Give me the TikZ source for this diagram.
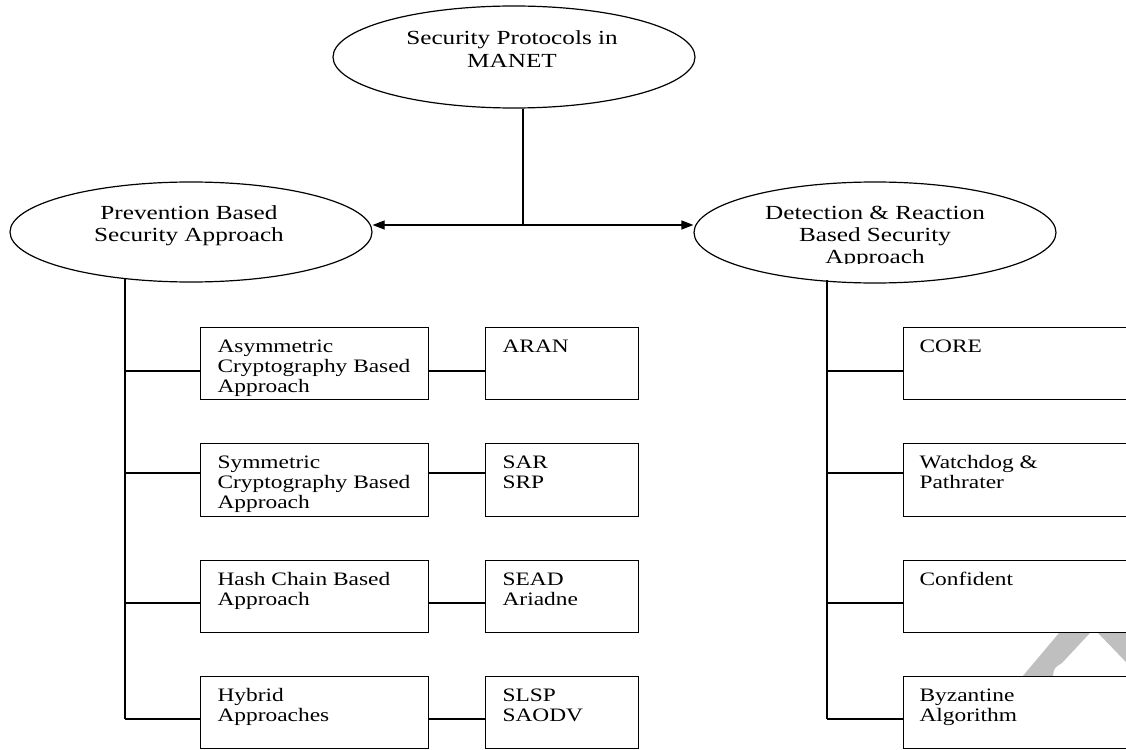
\documentclass[tikz,border=0pt]{standalone}
\usepackage{graphicx}
\usepackage{fontspec}
\setmainfont{Liberation Serif}
\usetikzlibrary{shapes.geometric,arrows.meta}
\newcommand{\boxtext}[1]{\scalebox{1.23}[1]{\fontsize{19}{20}\selectfont\begin{tabular}[t]{@{}l@{}}#1\end{tabular}}}
\newcommand{\elltext}[1]{\scalebox{1.26}[1]{\fontsize{20}{22.3}\selectfont\begin{tabular}[t]{@{}c@{}}#1\end{tabular}}}
\tikzset{
  ell/.style={draw, ellipse, fill=white, inner sep=0pt, minimum width=362pt},
  bxa/.style={draw, rectangle, fill=white, inner sep=0pt, anchor=north west, minimum width=228pt, minimum height=72pt},
  bxb/.style={draw, rectangle, fill=white, inner sep=0pt, anchor=north west, minimum width=153pt, minimum height=72pt},
  bxc/.style={draw, rectangle, fill=white, inner sep=0pt, anchor=north west, minimum width=300pt, minimum height=72pt},
  lbl/.style={anchor=base west, inner sep=0pt},
  etxt/.style={anchor=base, inner sep=0pt},
  arr/.style={-{Triangle[length=12pt,width=9pt]}},
  wmark/.style={fill=black!25, draw=none}
}
\begin{document}
\begin{tikzpicture}[x=1pt, y=-1pt, line width=1.2pt]
\useasboundingbox (0,0) rectangle (1126,749);
\clip (0,0) rectangle (1126,749);
\fill[white] (0,0) rectangle (1126,749);

% watermark
\path[wmark] (1070,620) -- (1011,690) -- (1050,690) -- (1053,676) .. controls (1054,668) .. (1062,663) -- (1102,620) -- cycle;
\path[wmark] (1085.5,620) -- (1160,620) -- (1160,697.4) -- cycle;

% ellipses
\node[ell, minimum height=102pt] (top) at (514,57) {};
\node[ell, minimum height=100pt] (pba) at (191,232) {};
\node[ell, minimum height=101pt] (dra) at (875,232.5) {};

\node[etxt] (topT) at (512,45) {\elltext{Security Protocols in\\MANET}};
\node[etxt] (pbaT) at (189,219) {\elltext{Prevention Based\\Security Approach}};
\begin{scope}
  \clip (700,190) rectangle (1050,263.5);
  \node[etxt] (draT) at (875,219) {\elltext{Detection \& Reaction\\Based Security\\Approach}};
\end{scope}

% top connectors
\coordinate (jn) at (523,225);
\draw (jn |- top.south) -- (jn);
\draw[arr] (jn) -- (jn -| pba.east);
\draw[arr] (jn) -- (jn -| dra.west);

% boxes
\node[bxa] (a1) at (200,327) {};
\node[bxa, minimum height=73pt] (a2) at (200,443) {};
\node[bxa] (a3) at (200,560) {};
\node[bxa] (a4) at (200,676) {};
\node[bxb] (b1) at (485,327) {};
\node[bxb, minimum height=73pt] (b2) at (485,443) {};
\node[bxb] (b3) at (485,560) {};
\node[bxb] (b4) at (485,676) {};
\node[bxc] (c1) at (903,327) {};
\node[bxc, minimum height=73pt] (c2) at (903,443) {};
\node[bxc] (c3) at (903,560) {};
\node[bxc] (c4) at (903,676) {};

% box labels
\node[lbl] (a1t) at ([shift={(17,25)}]a1.north west) {\boxtext{Asymmetric\\Cryptography Based\\Approach}};
\node[lbl] (a2t) at ([shift={(17,25)}]a2.north west) {\boxtext{Symmetric\\Cryptography Based\\Approach}};
\node[lbl] (a3t) at ([shift={(17,25)}]a3.north west) {\boxtext{Hash Chain Based\\Approach}};
\node[lbl] (a4t) at ([shift={(17,25)}]a4.north west) {\boxtext{Hybrid\\Approaches}};
\node[lbl] (b1t) at ([shift={(17,25)}]b1.north west) {\boxtext{ARAN}};
\node[lbl] (b2t) at ([shift={(17,25)}]b2.north west) {\boxtext{SAR\\SRP}};
\node[lbl] (b3t) at ([shift={(17,25)}]b3.north west) {\boxtext{SEAD\\Ariadne}};
\node[lbl] (b4t) at ([shift={(17,25)}]b4.north west) {\boxtext{SLSP\\SAODV}};
\node[lbl] (c1t) at ([shift={(16,25)}]c1.north west) {\boxtext{CORE}};
\node[lbl] (c2t) at ([shift={(16,25)}]c2.north west) {\boxtext{Watchdog \&\\Pathrater}};
\node[lbl] (c3t) at ([shift={(16,25)}]c3.north west) {\boxtext{Confident}};
\node[lbl] (c4t) at ([shift={(16,25)}]c4.north west) {\boxtext{Byzantine\\Algorithm}};

% trunks
\coordinate (tLtop) at (125,279);
\coordinate (tRtop) at (827,280);
\coordinate (r1) at (0,371);
\coordinate (r2) at (0,473);
\coordinate (r3) at (0,603);
\coordinate (r4) at (0,719);
\draw (tLtop) -- (r4 -| tLtop);
\draw (tRtop) -- (r4 -| tRtop);
\foreach \r/\i in {r1/1,r2/2,r3/3,r4/4}{
  \draw (\r -| tLtop) -- (\r -| a\i.west);
  \draw (\r -| a\i.east) -- (\r -| b\i.west);
  \draw (\r -| tRtop) -- (\r -| c\i.west);
}
\end{tikzpicture}
\end{document}
